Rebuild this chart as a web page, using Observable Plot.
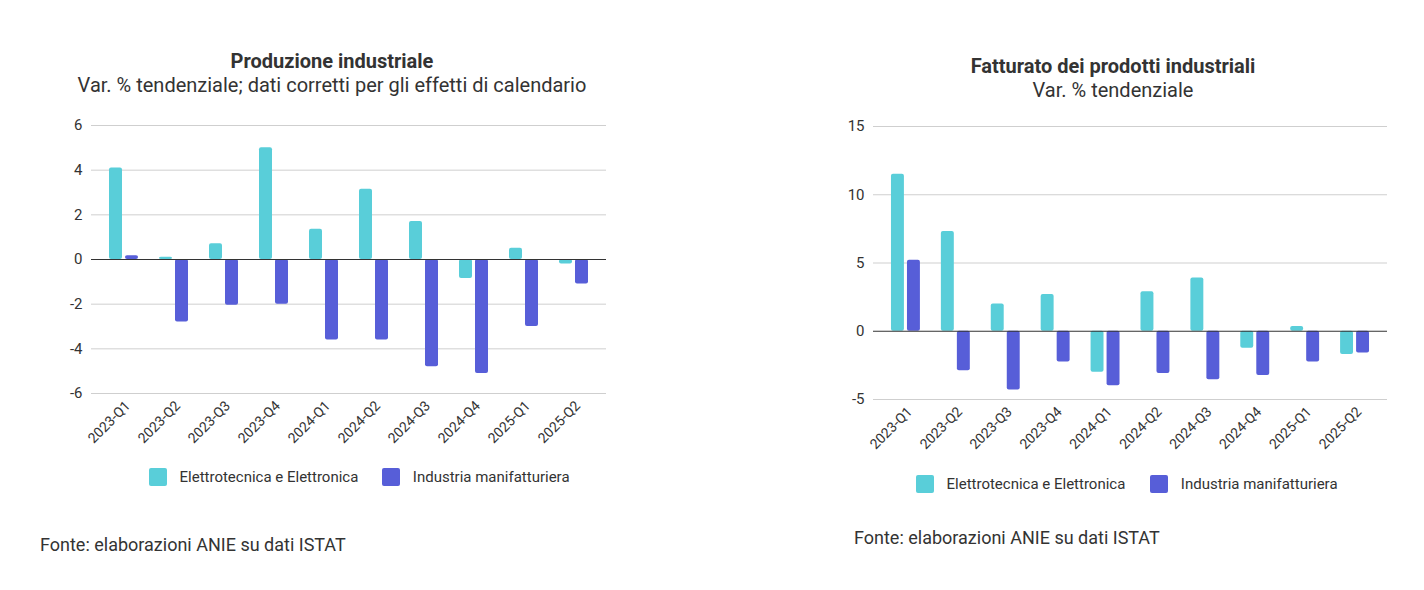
<!DOCTYPE html>
<html>
<head>
<meta charset="utf-8">
<script src="https://cdn.jsdelivr.net/npm/d3@7"></script>
<script src="https://cdn.jsdelivr.net/npm/@observablehq/plot@0.6"></script>
<style>
  html, body { margin: 0; padding: 0; background: #fff; }
  body { width: 1424px; height: 590px; position: relative; overflow: hidden; font-family: Roboto, sans-serif; color: #333; }
  .abs { position: absolute; }
  .title { font-weight: bold; font-size: 20px; line-height: 23px; text-align: center; white-space: nowrap; color: #333; }
  .sub { font-size: 20px; line-height: 23px; text-align: center; white-space: nowrap; color: #333; }
  .legend { display: flex; align-items: center; font-size: 15px; line-height: 18px; white-space: nowrap; color: #333; }
  .sw { width: 17.5px; height: 18px; border-radius: 2px; display: inline-block; }
  .src { font-size: 18px; line-height: 21px; color: #333; white-space: nowrap; }
</style>
</head>
<body>
<div id="t1" class="abs title" style="left:32px; width:600px; top:50px;">Produzione industriale</div>
<div id="s1" class="abs sub" style="left:32px; width:600px; top:74px;">Var. % tendenziale; dati corretti per gli effetti di calendario</div>
<div id="c1" class="abs" style="left:0px; top:110px;"></div>
<div id="l1" class="abs legend" style="left:149px; top:468px;"></div>
<div class="abs src" style="left:40px; top:534px;">Fonte: elaborazioni ANIE su dati ISTAT</div>

<div id="t2" class="abs title" style="left:813px; width:600px; top:55px;">Fatturato dei prodotti industriali</div>
<div id="s2" class="abs sub" style="left:813px; width:600px; top:79px;">Var. % tendenziale</div>
<div id="c2" class="abs" style="left:712px; top:110px;"></div>
<div id="l2" class="abs legend" style="left:916px; top:475px;"></div>
<div class="abs src" style="left:854px; top:527px;">Fonte: elaborazioni ANIE su dati ISTAT</div>

<script>
const quarters = ["2023-Q1","2023-Q2","2023-Q3","2023-Q4","2024-Q1","2024-Q2","2024-Q3","2024-Q4","2025-Q1","2025-Q2"];
const seriesNames = ["Elettrotecnica e Elettronica", "Industria manifatturiera"];
const seriesColors = ["#59CED9", "#575ED8"];

const prodElettro = [4.1, 0.1, 0.7, 5.0, 1.35, 3.15, 1.7, -0.85, 0.5, -0.2];
const prodManif   = [0.17, -2.8, -2.05, -2.0, -3.6, -3.6, -4.8, -5.1, -3.0, -1.1];
const prodTicks   = [-6, -4, -2, 0, 2, 4, 6];

const fattElettro = [11.5, 7.3, 2.0, 2.7, -3.0, 2.9, 3.9, -1.25, 0.35, -1.7];
const fattManif   = [5.2, -2.9, -4.3, -2.25, -4.0, -3.1, -3.55, -3.25, -2.25, -1.6];
const fattTicks   = [-5, 0, 5, 10, 15];

function rows(a) { return quarters.map((q, i) => ({q, v: a[i]})); }

function chart({e, m, ticks, width, height, marginLeft, marginRight, marginTop, marginBottom}) {
  return Plot.plot({
    width, height, marginLeft, marginRight, marginTop, marginBottom,
    style: {fontFamily: "Roboto, sans-serif", fontSize: "14px", color: "#333", background: "transparent"},
    x: {domain: quarters, paddingInner: 0.42, paddingOuter: 0.36, round: false, label: null},
    y: {domain: [ticks[0], ticks[ticks.length - 1]], label: null},
    marks: [
      Plot.ruleY(ticks.filter(t => t !== 0), {stroke: "#cfcfcf", strokeWidth: 1}),
      Plot.barY(rows(e), {x: "q", y: "v", fill: seriesColors[0], insetRight: 16, rx: 2}),
      Plot.barY(rows(m), {x: "q", y: "v", fill: seriesColors[1], insetLeft: 16, rx: 2}),
      Plot.ruleY([0], {stroke: "#333", strokeWidth: 1.2}),
      Plot.axisX({tickRotate: -45, tickSize: 0, tickPadding: 10, dx: 4, label: null, fontSize: 14}),
      Plot.axisY({ticks, tickSize: 0, tickPadding: 9, label: null, fontSize: 15, tickFormat: d => String(d)})
    ]
  });
}

document.getElementById("c1").append(chart({e: prodElettro, m: prodManif, ticks: prodTicks,
  width: 700, height: 343, marginLeft: 91, marginRight: 94, marginTop: 15, marginBottom: 60}));
document.getElementById("c2").append(chart({e: fattElettro, m: fattManif, ticks: fattTicks,
  width: 712, height: 349, marginLeft: 161, marginRight: 37, marginTop: 16, marginBottom: 60}));

function legend(id, gap) {
  const el = document.getElementById(id);
  seriesNames.forEach((n, i) => {
    const sw = document.createElement("span");
    sw.className = "sw"; sw.style.background = seriesColors[i];
    if (i > 0) sw.style.marginLeft = gap + "px";
    const tx = document.createElement("span");
    tx.textContent = n; tx.style.marginLeft = "13px";
    el.append(sw, tx);
  });
}
legend("l1", 24);
legend("l2", 25);
</script>
</body>
</html>
